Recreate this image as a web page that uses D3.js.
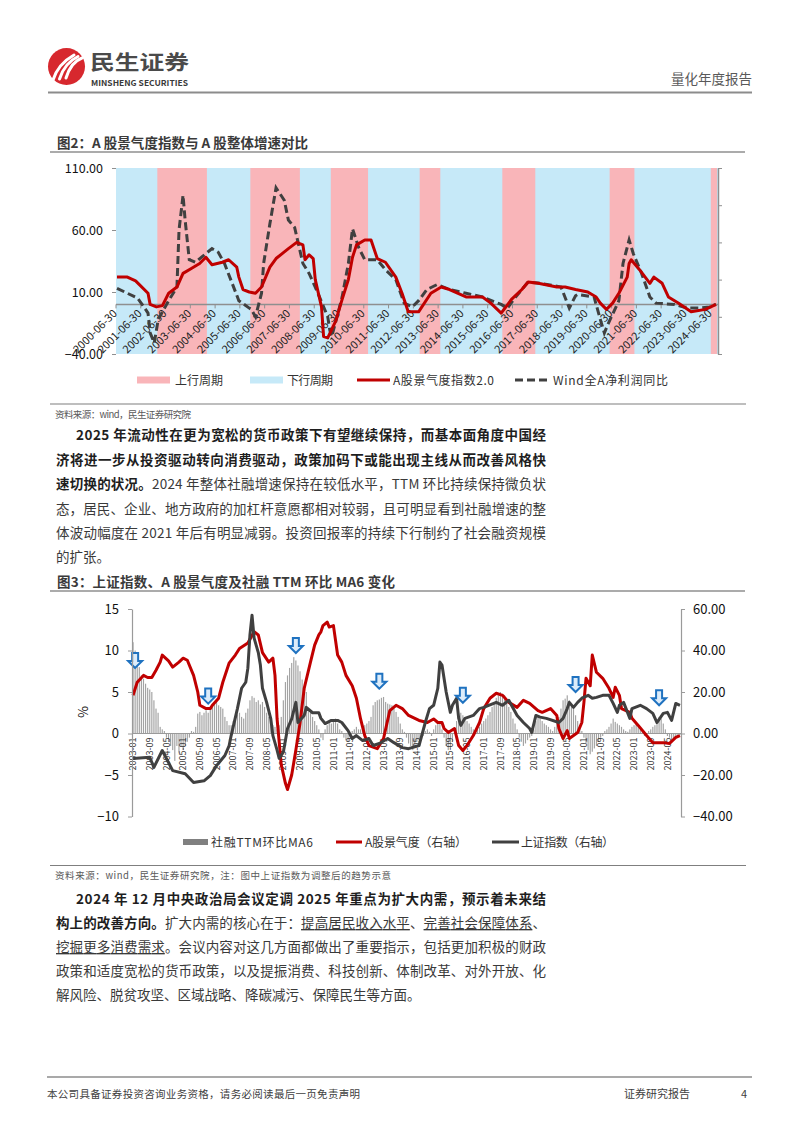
<!DOCTYPE html>
<html><head><meta charset="utf-8">
<script src="https://cdn.jsdelivr.net/npm/d3@7"></script>
<style>
body{margin:0;background:#fff;}
svg text{font-family:"Noto Sans CJK SC","Noto Sans",sans-serif;}
</style></head>
<body><svg id="page" width="802" height="1133" xmlns="http://www.w3.org/2000/svg"></svg>
<script>
// ================= DATA =================
// Chart 1 (图2)
const upCycles = [["2002-03","2004-03"],["2005-12","2007-12"],["2009-03","2010-09"],["2012-10","2013-08"],["2016-02","2017-06"],["2020-06","2021-06"],["2024-07","2024-10"]];
const xTickLabels1 = ["2000-06-30","2001-06-30","2002-06-30","2003-06-30","2004-06-30","2005-06-30","2006-06-30","2007-06-30","2008-06-30","2009-06-30","2010-06-30","2011-06-30","2012-06-30","2013-06-30","2014-06-30","2015-06-30","2016-06-30","2017-06-30","2018-06-30","2019-06-30","2020-06-30","2021-06-30","2022-06-30","2023-06-30","2024-06-30"];
const yTicks1 = [110,60,10,-40];
const yTicks1Right = [110,80,50,20,-10,-40];
const sentiment1 = [["2000-07",22],["2000-12",22],["2001-04",19],["2001-10",9],["2001-11",0],["2002-02",-2],["2002-05",-1],["2002-08",9],["2002-12",14],["2003-03",25],["2003-07",29],["2003-11",33],["2004-02",38],["2004-05",32],["2004-10",34],["2005-01",36],["2005-05",30],["2005-06",22],["2005-08",12],["2005-11",10],["2006-02",9],["2006-05",14],["2006-09",30],["2006-12",37],["2007-03",41],["2007-06",45],["2007-10",50],["2008-01",48],["2008-02",36],["2008-04",40],["2008-06",37],["2008-07",20],["2008-10",-2],["2008-11",-26],["2009-01",-27],["2009-05",-13],["2009-08",4],["2009-11",20],["2010-01",38],["2010-03",48],["2010-07",52],["2010-10",52],["2011-01",37],["2011-05",34],["2011-10",22],["2012-01",9],["2012-04",-6],["2012-09",-6],["2013-03",9],["2013-08",14],["2013-12",12],["2014-08",6],["2015-04",6],["2015-08",1],["2016-01",-7],["2016-06",4],["2016-11",12],["2017-02",18],["2017-07",17],["2018-04",14],["2018-08",14],["2019-01",12],["2019-07",10],["2019-11",6],["2020-01",1],["2020-04",-4],["2020-07",1],["2020-10",9],["2021-02",22],["2021-03",33],["2021-04",36],["2021-08",28],["2022-01",17],["2022-03",22],["2022-07",17],["2022-10",6],["2023-03",1],["2023-09",-6],["2024-04",-4],["2024-09",0]];
const profitYoY = [["2000-07",13],["2001-05",5],["2001-08",-2],["2001-10",-7],["2001-11",-23],["2002-01",-31],["2002-03",-12],["2002-08",3],["2002-12",14],["2003-01",60],["2003-03",88],["2003-04",68],["2003-06",36],["2003-09",34],["2004-02",41],["2004-05",45],["2004-08",42],["2004-11",33],["2005-02",20],["2005-06",3],["2005-11",-3],["2005-12",-4],["2006-02",-10],["2006-05",9],["2006-06",33],["2006-09",65],["2006-12",94],["2007-04",84],["2007-06",68],["2007-09",62],["2008-01",33],["2008-04",25],["2008-07",14],["2008-09",6],["2009-01",-10],["2009-02",-21],["2009-03",-26],["2009-06",-7],["2009-08",6],["2009-11",33],["2010-01",61],["2010-04",46],["2010-07",36],["2011-01",36],["2011-05",28],["2011-10",20],["2012-02",1],["2012-06",-2],["2012-09",3],["2013-01",12],["2013-06",16],["2013-12",12],["2014-08",9],["2015-04",6],["2016-01",0],["2016-04",-3],["2016-08",6],["2017-02",18],["2017-08",17],["2018-06",14],["2018-10",-3],["2019-01",7],["2019-02",8],["2019-10",6],["2020-01",-12],["2020-03",-23],["2020-05",-15],["2020-10",3],["2020-12",33],["2021-03",52],["2021-05",41],["2021-09",25],["2022-01",6],["2022-04",1],["2023-01",0],["2023-07",-3],["2024-01",-3],["2024-06",-2],["2024-09",0]];

// Chart 2 (图3)
const xTickLabels2 = ["2003-01","2003-09","2004-05","2005-01","2005-09","2006-05","2007-01","2007-09","2008-05","2009-01","2009-09","2010-05","2011-01","2011-09","2012-05","2013-01","2013-09","2014-05","2015-01","2015-09","2016-05","2017-01","2017-09","2018-05","2019-01","2019-09","2020-05","2021-01","2021-09","2022-05","2023-01","2023-09","2024-05"];
const yTicks2Left = [15,10,5,0,-5,-10];
const yTicks2Right = [60,40,20,0,-20,-40];
// 社融TTM环比MA6, monthly from 2003-01 to 2024-11
const tsfMA6 = [
 11,10,8.5,8,7,6.6,6,5.5,5.3,5,4,3,
 2.5,0.8,0.5,0.3,-0.5,-1,-1.5,-2,-3.3,-1.5,-2.3,-1.5,
 -2,-1.5,-1,-0.5,0.3,0.2,0.8,2.4,2.6,2.2,2.5,2.8,
 2.5,3,3.5,3.6,3.8,3.4,3.2,3,2,1.5,1,1,
 1.5,1.8,2.3,2.5,2,1.8,2.5,3,4,4.5,4.3,3.8,
 4,3.5,3.8,3.2,2.5,2,1.5,1,0.8,0.5,1,2,
 4,6.2,7,7.9,8.5,9.2,8.8,8.2,7.5,6.5,5.5,5,
 3,2.5,2,1.5,1,0.5,-0.5,-0.8,0.5,1,1.5,1.2,
 1.5,1.8,1.2,0.5,0.3,-0.5,-0.8,-1,-0.5,0.3,0.5,0.8,
 0.5,0.5,0.8,1,1.2,1.5,2,3.4,3.8,4,4.1,4.3,
 4.4,3.8,3.6,3.5,3.4,3,2.6,2,1.2,0.5,0.2,-0.5,
 -1.2,-1.5,-2,-1.5,-1,-0.8,-0.5,-0.3,0.3,0.5,0.2,-0.3,
 0.5,1,1.5,1.3,0.5,-0.5,-1.5,-2,-1.8,-1,0.5,1.5,
 2,2.5,2.2,1.8,1.5,1.2,0.8,0.5,0.3,0.5,0.8,1.2,
 1.5,1.8,2.2,2.6,3.2,3.8,4.3,4.6,5,4.8,4.6,3.9,
 3.2,2.6,1.8,1.2,0.5,-0.5,-1,-1.5,-1.2,-0.8,-0.5,-0.3,
 0.5,1.5,2,1.8,1.5,1.2,1,0.8,0.5,0.3,0.8,1.5,
 2,3,4,4.2,4.6,4,3.5,3,2.2,1.5,0.8,0.3,
 -0.5,-1.2,-2,-2.5,-2.2,-1.8,-1.5,-1,-0.5,-0.3,0.3,0.5,
 0.8,1.2,1.8,1.4,1.2,1,0.8,0.5,0.3,0.2,0.5,0.8,
 1,1.2,0.8,0.5,0.2,-0.3,-0.2,0.3,0.5,0.8,1,1.5,
 2,1.8,1.2,0.5,-0.3,-0.5,-0.8,-0.6,-0.5,-0.3,-0.2];
const sentiment2 = [["2003-01",18.4],["2003-03",24.7],["2003-06",28],["2003-08",27],["2003-10",27],["2003-12",30.5],["2004-02",34.4],["2004-03",37.8],["2004-06",35],["2004-08",32],["2004-11",34.4],["2005-01",36.3],["2005-03",35.3],["2005-06",28],["2005-08",20],["2005-09",13.6],["2005-12",12],["2006-02",12],["2006-03",13.6],["2006-06",17],["2006-08",24.7],["2006-11",33.9],["2007-02",37.8],["2007-04",41],["2007-08",43.6],["2007-11",49],["2008-01",47.5],["2008-03",39],["2008-06",34.4],["2008-08",36.3],["2008-09",28],["2008-10",7],["2008-12",-15],["2009-02",-24],["2009-03",-27],["2009-05",-20],["2009-07",-8],["2009-09",5],["2009-11",21.8],["2010-02",34.4],["2010-04",42.6],["2010-06",47.5],["2010-07",49],["2010-08",52],["2010-10",53.7],["2010-11",51.3],["2011-01",52],["2011-03",37.8],["2011-05",34.4],["2011-07",28],["2011-10",23],["2011-12",17],["2012-02",7],["2012-04",-1],["2012-06",-5.8],["2012-10",-7.3],["2013-01",-2.4],["2013-04",11],["2013-07",13.6],["2013-10",12],["2014-01",8.7],["2014-06",6.3],["2014-10",5.3],["2015-01",7],["2015-03",5.3],["2015-05",5.3],["2015-06",2.4],["2015-08",0.5],["2015-11",2.4],["2016-01",-5.8],["2016-03",-8.2],["2016-05",-5.8],["2016-08",-1],["2016-11",5.3],["2017-01",12],["2017-04",17],["2017-07",19.4],["2017-10",18.4],["2018-01",15],["2018-05",12.6],["2018-08",16],["2018-11",14.5],["2019-03",11],["2019-05",10.2],["2019-09",12],["2019-12",8.7],["2020-01",2.4],["2020-03",-2.4],["2020-05",1.4],["2020-06",-2.4],["2020-10",0.5],["2020-12",5.3],["2021-01",15],["2021-02",26.6],["2021-04",23],["2021-05",37.8],["2021-07",29.5],["2021-10",26.6],["2022-01",21.8],["2022-03",17.4],["2022-04",22.3],["2022-06",18.4],["2022-07",12],["2022-11",10.2],["2022-12",7.3],["2023-03",3.9],["2023-07",-1],["2023-10",-4.4],["2024-03",-4.4],["2024-06",-4.8],["2024-09",-1.9],["2024-11",-1]];
const shIndex = [["2003-01",-12],["2003-09",-11.5],["2003-11",-16.3],["2004-03",-8.2],["2004-08",-17.9],["2005-02",-19.4],["2005-06",-23.6],["2005-11",-22.8],["2006-02",-20.3],["2006-05",-15.5],["2006-09",-10.6],["2006-11",-6],["2006-12",-1],["2007-03",12],["2007-05",21.8],["2007-07",24.7],["2007-08",31.5],["2007-09",47.5],["2007-10",57],["2007-11",46],["2008-01",39],["2008-02",33],["2008-03",21.8],["2008-05",15],["2008-07",7],["2008-08",-1],["2008-10",-8],["2008-11",-12],["2009-01",-9],["2009-03",2.4],["2009-05",7],["2009-07",15],["2009-08",5.3],["2009-11",8.7],["2009-12",12.6],["2010-03",10],["2010-06",10],["2010-07",7.3],["2010-09",4.8],["2010-12",6.3],["2011-03",6.3],["2011-05",5.3],["2011-08",1.4],["2011-10",-2.4],["2011-12",-1],["2012-03",-3.4],["2012-06",-2.4],["2012-08",-5.8],["2012-11",-4.8],["2013-03",-2.4],["2013-06",-4.4],["2013-10",-6.8],["2014-01",-7.3],["2014-06",-5.8],["2014-09",5.3],["2014-11",12],["2015-01",13.6],["2015-03",21.8],["2015-04",34.4],["2015-05",33],["2015-07",20],["2015-09",10.2],["2015-10",13.6],["2015-12",17],["2016-01",7.3],["2016-02",3.9],["2016-04",7.3],["2016-08",8.7],["2016-11",12],["2017-01",12.6],["2017-07",15],["2017-10",13.6],["2018-01",16],["2018-05",8.7],["2018-08",5.3],["2018-11",2.4],["2018-12",0.5],["2019-02",8.7],["2019-04",7.9],["2019-07",7.3],["2020-01",5.3],["2020-03",7.3],["2020-05",12],["2020-06",15],["2020-08",12.6],["2020-10",15],["2020-12",17],["2021-03",18.4],["2021-05",17],["2021-07",17.4],["2021-10",18.4],["2022-01",18.4],["2022-03",14.5],["2022-05",10.2],["2022-06",13.6],["2022-08",15],["2022-11",7.3],["2022-12",12],["2023-04",13.6],["2023-07",12],["2023-10",9.7],["2023-12",5.3],["2024-03",9.7],["2024-05",10.2],["2024-07",6.3],["2024-09",14.5],["2024-11",13.6]];
const arrowMonths = ["2003-02","2006-01","2009-07","2012-11","2016-03","2020-09","2024-01"];
const arrowTips = [7.9,3.6,9.7,5.4,3.7,5,3.4];

// ================= DRAWING =================
const svg = d3.select("#page");
const NUM = "'Liberation Sans', Arial, sans-serif";
const CJK = "'Noto Sans CJK SC', sans-serif";
const parseD = d3.timeParse("%Y-%m-%d");
const pm = s => parseD(s + "-15");

function txt(g, x, y, s, o = {}) {
  const t = g.append("text").attr("x", x).attr("y", y).text(s)
    .attr("font-size", o.size || 12).attr("fill", o.fill || "#333")
    .attr("font-family", o.family || CJK);
  if (o.weight) t.attr("font-weight", o.weight);
  if (o.anchor) t.attr("text-anchor", o.anchor);
  if (o.len) t.attr("textLength", o.len).attr("lengthAdjust", o.adjust || "spacing");
  return t;
}
function hline(g, x1, x2, y, stroke, w) {
  g.append("line").attr("x1", x1).attr("x2", x2).attr("y1", y).attr("y2", y)
    .attr("stroke", stroke).attr("stroke-width", w);
}

// ---------- Header ----------
const hd = svg.append("g");
hd.append("circle").attr("cx", 66.5).attr("cy", 66.5).attr("r", 18.5).attr("fill", "#d7282e");
[0, 1, 2].forEach(i => {
  hd.append("path")
    .attr("d", `M${53 + i * 6.5},${80 - i * 1} Q${58 + i * 6.5},${64 - i * 1} ${74 + i * 4},${55 + i * 1.5}`)
    .attr("fill", "none").attr("stroke", "#fff").attr("stroke-width", 3).attr("stroke-linecap", "round");
});
txt(hd, 90, 70, "民生证券", {size: 20, weight: 700, fill: "#4a4a4a", len: 99, adjust: "spacingAndGlyphs"});
txt(hd, 91, 85.5, "MINSHENG SECURITIES", {size: 8, weight: 700, fill: "#3a3a3a", family: NUM, len: 97, adjust: "spacingAndGlyphs"});
txt(hd, 752, 84, "量化年度报告", {size: 13.5, fill: "#595959", anchor: "end"});
hline(hd, 48, 752, 92.5, "#8c8c8c", 2);

// ---------- Chart 1 ----------
const c1 = svg.append("g");
txt(c1, 57, 148, "图2：A 股景气度指数与 A 股整体增速对比", {size: 13.5, weight: 700, fill: "#3a3a3a", len: 251});
hline(c1, 50, 745, 152, "#595959", 1.2);

const X1L = 116, X1R = 718, Y1T = 168, Y1B = 354;
const x1 = d3.scaleTime().domain([parseD("2000-06-30"), parseD("2024-10-15")]).range([X1L, X1R]);
const y1 = d3.scaleLinear().domain([-40, 110]).range([Y1B, Y1T]);

c1.append("rect").attr("x", X1L).attr("y", Y1T).attr("width", X1R - X1L).attr("height", Y1B - Y1T).attr("fill", "#c6e9f8");
c1.selectAll(".up").data(upCycles).join("rect")
  .attr("x", d => x1(parseD(d[0] + "-01")))
  .attr("width", d => x1(parseD(d[1] + "-01")) - x1(parseD(d[0] + "-01")))
  .attr("y", Y1T).attr("height", Y1B - Y1T).attr("fill", "#f9b5b9");

const clip1 = svg.append("clipPath").attr("id", "clip1");
clip1.append("rect").attr("x", X1L).attr("y", Y1T - 2).attr("width", X1R - X1L).attr("height", Y1B - Y1T + 4);

// zero axis
const y0 = y1(0);
hline(c1, X1L, X1R, y0, "#8f8f8f", 1.5);
const xa1 = c1.append("g");
xTickLabels1.forEach(s => {
  const xx = x1(parseD(s));
  xa1.append("line").attr("x1", xx).attr("x2", xx).attr("y1", y0).attr("y2", y0 + 4).attr("stroke", "#8f8f8f").attr("stroke-width", 1);
  xa1.append("text").attr("transform", `translate(${xx - 1},${y0 + 7}) rotate(-45)`)
    .attr("text-anchor", "end").attr("dy", "0.35em").attr("font-size", 11).attr("font-family", NUM).attr("fill", "#222").text(s);
});

// lines
const line1 = d3.line().x(d => x1(pm(d[0]))).y(d => y1(d[1]));
c1.append("path").datum(profitYoY).attr("d", line1).attr("clip-path", "url(#clip1)")
  .attr("fill", "none").attr("stroke", "#404040").attr("stroke-width", 3).attr("stroke-dasharray", "8,4");
c1.append("path").datum(sentiment1).attr("d", line1).attr("clip-path", "url(#clip1)")
  .attr("fill", "none").attr("stroke", "#c00000").attr("stroke-width", 3).attr("stroke-linejoin", "round");

// left axis
const ax1 = c1.append("g").attr("transform", `translate(${X1L},0)`)
  .call(d3.axisLeft(y1).tickValues(yTicks1).tickFormat(d3.format(".2f")).tickSize(4).tickSizeOuter(0));
ax1.select(".domain").remove();
ax1.selectAll("line").attr("stroke", "#8f8f8f");
ax1.selectAll("text").attr("font-size", 12.5).attr("font-family", NUM).attr("fill", "#111").attr("x", -13);
// right axis
const ax1r = c1.append("g").attr("transform", `translate(${X1R},0)`)
  .call(d3.axisRight(y1).tickValues(yTicks1Right).tickFormat("").tickSize(4).tickSizeOuter(0));
ax1r.select(".domain").attr("stroke", "#8f8f8f").attr("stroke-width", 1.5);
ax1r.selectAll("line").attr("stroke", "#8f8f8f");

// legend 1
const lg1 = c1.append("g");
lg1.append("rect").attr("x", 137).attr("y", 376.5).attr("width", 33).attr("height", 7).attr("fill", "#f9b5b9");
txt(lg1, 175, 385, "上行周期", {size: 12, fill: "#333", len: 48});
lg1.append("rect").attr("x", 250).attr("y", 376.5).attr("width", 33).attr("height", 7).attr("fill", "#c6e9f8");
txt(lg1, 287, 385, "下行周期", {size: 12, fill: "#333", len: 46});
lg1.append("line").attr("x1", 357).attr("x2", 390).attr("y1", 380).attr("y2", 380).attr("stroke", "#c00000").attr("stroke-width", 3);
txt(lg1, 393, 385, "A股景气度指数2.0", {size: 12, fill: "#333", len: 101});
lg1.append("line").attr("x1", 515).attr("x2", 549).attr("y1", 380).attr("y2", 380).attr("stroke", "#404040").attr("stroke-width", 3).attr("stroke-dasharray", "8,4");
txt(lg1, 553, 385, "Wind全A净利润同比", {size: 12, fill: "#333", len: 115});
hline(c1, 50, 746, 404, "#7f7f7f", 1.2);
txt(c1, 55, 418, "资料来源：wind，民生证券研究院", {size: 9.5, fill: "#595959", len: 136});

// ---------- Paragraphs ----------
function para(lines) {
  const g = svg.append("g");
  lines.forEach(L => {
    const t = g.append("text").attr("x", L.x).attr("y", L.y).attr("font-size", 13.5).attr("font-family", CJK);
    if (L.w) t.attr("textLength", L.w).attr("lengthAdjust", "spacing");
    L.segs.forEach(([s, st]) => {
      const ts = t.append("tspan").text(s);
      if (st === "b") ts.attr("font-weight", 700).attr("fill", "#1e1e1e");
      else ts.attr("fill", "#3a3a3a");
      if (st === "u") ts.attr("text-decoration", "underline");
    });
  });
}
para([
  {x: 76, y: 440, w: 470, segs: [["2025 年流动性在更为宽松的货币政策下有望继续保持，而基本面角度中国经", "b"]]},
  {x: 56, y: 464.5, w: 490, segs: [["济将进一步从投资驱动转向消费驱动，政策加码下或能出现主线从而改善风格快", "b"]]},
  {x: 56, y: 489, w: 490, segs: [["速切换的状况。", "b"], ["2024 年整体社融增速保持在较低水平，TTM 环比持续保持微负状", "n"]]},
  {x: 56, y: 513.5, w: 490, segs: [["态，居民、企业、地方政府的加杠杆意愿都相对较弱，且可明显看到社融增速的整", "n"]]},
  {x: 56, y: 538, w: 490, segs: [["体波动幅度在 2021 年后有明显减弱。投资回报率的持续下行制约了社会融资规模", "n"]]},
  {x: 56, y: 562, segs: [["的扩张。", "n"]]}
]);

// ---------- Chart 2 ----------
const c2 = svg.append("g");
txt(c2, 57, 587, "图3：上证指数、A 股景气度及社融 TTM 环比 MA6 变化", {size: 13.5, weight: 700, fill: "#3a3a3a", len: 338});
hline(c2, 50, 745, 591, "#595959", 1.2);

const X2L = 132, X2R = 681;
const months2 = d3.timeMonth.range(new Date(2003, 0, 1), new Date(2024, 11, 1)).map(d3.timeFormat("%Y-%m"));
const xb = d3.scaleBand().domain(months2).range([X2L, X2R]).padding(0);
const bw = xb.bandwidth();
const yL = d3.scaleLinear().domain([-10, 15]).range([816.5, 609]);
const yR = d3.scaleLinear().domain([-40, 60]).range([816.5, 609]);
const z2 = yL(0);

// bars
c2.selectAll(".bar").data(tsfMA6).join("rect")
  .attr("x", (d, i) => xb(months2[i]) + bw * 0.22)
  .attr("width", bw * 0.56)
  .attr("y", d => yL(Math.max(0, d)))
  .attr("height", d => Math.abs(yL(d) - yL(0)))
  .attr("fill", "#a3a3a3");

// x axis
hline(c2, X2L, X2R, z2, "#9a9a9a", 1.2);
xTickLabels2.forEach(s => {
  const xx = xb(s) + bw / 2;
  c2.append("text").attr("transform", `translate(${xx},${z2 + 4}) rotate(-90)`)
    .attr("text-anchor", "end").attr("dy", "0.35em").attr("font-size", 9).attr("font-family", NUM)
    .attr("fill", "#333").text(s);
});

// lines
const line2 = d3.line().x(d => xb(d[0]) + bw / 2).y(d => yR(d[1]));
c2.append("path").datum(sentiment2).attr("d", line2).attr("fill", "none")
  .attr("stroke", "#c00000").attr("stroke-width", 3).attr("stroke-linejoin", "round");
c2.append("path").datum(shIndex).attr("d", line2).attr("fill", "none")
  .attr("stroke", "#404040").attr("stroke-width", 3).attr("stroke-linejoin", "round");

// arrows
arrowMonths.forEach((m, i) => {
  const ax = xb(m) + bw / 2, ay = yL(arrowTips[i]);
  c2.append("path")
    .attr("d", `M${ax},${ay} L${ax - 7},${ay - 7} L${ax - 3},${ay - 7} L${ax - 3},${ay - 15} L${ax + 3},${ay - 15} L${ax + 3},${ay - 7} L${ax + 7},${ay - 7} Z`)
    .attr("fill", "#dcecfa").attr("stroke", "#1f72c0").attr("stroke-width", 2).attr("stroke-linejoin", "miter");
});

// left axis
const ax2 = c2.append("g").attr("transform", `translate(${X2L},0)`)
  .call(d3.axisLeft(yL).tickValues(yTicks2Left).tickSize(4).tickSizeOuter(0));
ax2.select(".domain").attr("stroke", "#9a9a9a").attr("stroke-width", 1.2);
ax2.selectAll("line").attr("stroke", "#9a9a9a");
ax2.selectAll("text").attr("font-size", 13).attr("font-family", NUM).attr("fill", "#111").attr("x", -13);
// right axis
const ax2r = c2.append("g").attr("transform", `translate(${X2R},0)`)
  .call(d3.axisRight(yR).tickValues(yTicks2Right).tickFormat(d3.format(".2f")).tickSize(4).tickSizeOuter(0));
ax2r.select(".domain").attr("stroke", "#9a9a9a").attr("stroke-width", 1.2);
ax2r.selectAll("line").attr("stroke", "#9a9a9a");
ax2r.selectAll("text").attr("font-size", 13).attr("font-family", NUM).attr("fill", "#111").attr("x", 12);
c2.append("text").attr("transform", "translate(88,712) rotate(-90)").attr("text-anchor", "middle")
  .attr("font-size", 13).attr("font-family", NUM).attr("fill", "#111").text("%");

// legend 2
const lg2 = c2.append("g");
lg2.append("rect").attr("x", 183).attr("y", 839).attr("width", 25).attr("height", 6).attr("fill", "#808080");
txt(lg2, 211, 847, "社融TTM环比MA6", {size: 12, fill: "#333", len: 102});
lg2.append("line").attr("x1", 336).attr("x2", 362).attr("y1", 842).attr("y2", 842).attr("stroke", "#c00000").attr("stroke-width", 3);
txt(lg2, 365, 847, "A股景气度（右轴）", {size: 12, fill: "#333", len: 102});
lg2.append("line").attr("x1", 492).attr("x2", 519).attr("y1", 842).attr("y2", 842).attr("stroke", "#404040").attr("stroke-width", 3);
txt(lg2, 521, 847, "上证指数（右轴）", {size: 12, fill: "#333", len: 93});
hline(c2, 50, 746, 865.5, "#7f7f7f", 1.2);
txt(c2, 55, 879, "资料来源：wind，民生证券研究院，注：图中上证指数为调整后的趋势示意", {size: 9.5, fill: "#595959", len: 336});

para([
  {x: 76, y: 904, w: 470, segs: [["2024 年 12 月中央政治局会议定调 2025 年重点为扩大内需，预示着未来结", "b"]]},
  {x: 56, y: 928, w: 490, segs: [["构上的改善方向。", "b"], ["扩大内需的核心在于：", "n"], ["提高居民收入水平", "u"], ["、", "n"], ["完善社会保障体系", "u"], ["、", "n"]]},
  {x: 56, y: 952, w: 490, segs: [["挖掘更多消费需求", "u"], ["。会议内容对这几方面都做出了重要指示，包括更加积极的财政", "n"]]},
  {x: 56, y: 976, w: 490, segs: [["政策和适度宽松的货币政策，以及提振消费、科技创新、体制改革、对外开放、化", "n"]]},
  {x: 56, y: 1000, segs: [["解风险、脱贫攻坚、区域战略、降碳减污、保障民生等方面。", "n"]]}
]);

// ---------- Footer ----------
const ft = svg.append("g");
hline(ft, 47, 752, 1077, "#8c8c8c", 1.5);
txt(ft, 47, 1098, "本公司具备证券投资咨询业务资格，请务必阅读最后一页免责声明", {size: 10.5, fill: "#404040", len: 313});
txt(ft, 624, 1098, "证券研究报告", {size: 11, fill: "#404040", len: 66});
txt(ft, 741, 1098, "4", {size: 11, fill: "#404040", family: NUM});
</script></body></html>
